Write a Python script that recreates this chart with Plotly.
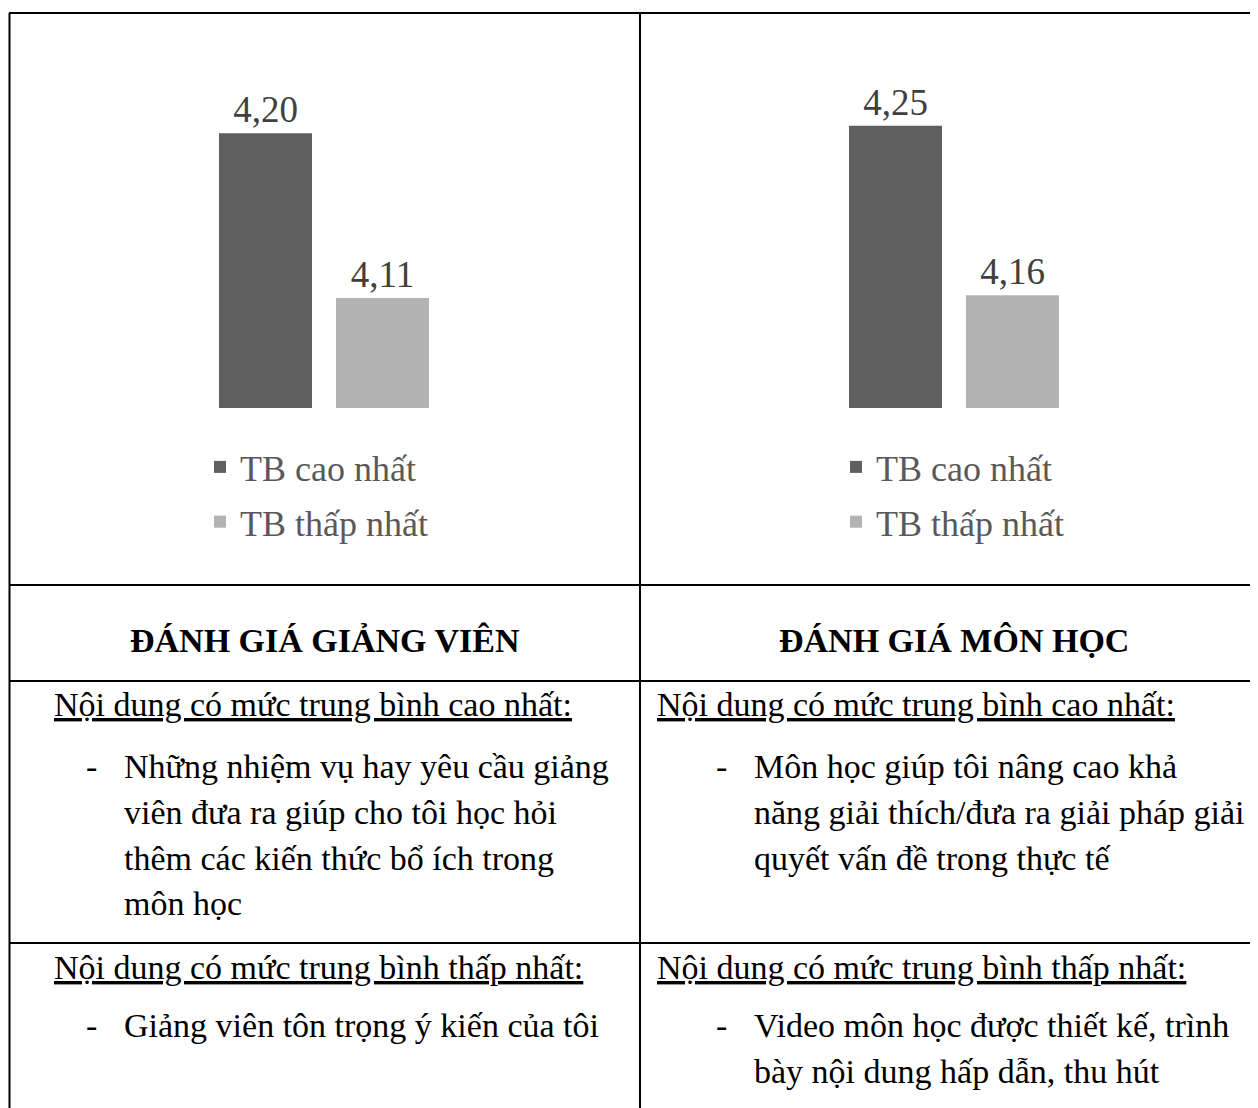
import plotly.graph_objects as go

# Kich thuoc trang
W, H = 1258, 1108
LE = 8  # le mac dinh cua trang html

# Du lieu
nhom = ['ĐÁNH GIÁ GIẢNG VIÊN', 'ĐÁNH GIÁ MÔN HỌC']
ten_chuoi = ['TB cao nhất', 'TB thấp nhất']
tb_cao = [4.20, 4.25]
tb_thap = [4.11, 4.16]
mau = ['#5f5f5f', '#b3b3b3']

tieu_de_cao = 'Nội dung có mức trung bình cao nhất:'
tieu_de_thap = 'Nội dung có mức trung bình thấp nhất:'
gv_cao = ['Những nhiệm vụ hay yêu cầu giảng', 'viên đưa ra giúp cho tôi học hỏi',
          'thêm các kiến thức bổ ích trong', 'môn học']
gv_thap = ['Giảng viên tôn trọng ý kiến của tôi']
mh_cao = ['Môn học giúp tôi nâng cao khả', 'năng giải thích/đưa ra giải pháp giải',
          'quyết vấn đề trong thực tế']
mh_thap = ['Video môn học được thiết kế, trình', 'bày nội dung hấp dẫn, thu hút']

FONT = 'Liberation Serif, Times New Roman, serif'


# Doi toa do pixel cua trang sang toa do paper
def fx(px):
    return (px - LE) / W


def fy(py):
    return 1 - (py - LE) / H


fig = go.Figure()

# Hai bieu do cot
for i in range(2):
    xa = 'x' if i == 0 else 'x2'
    ya = 'y' if i == 0 else 'y2'
    lg = 'legend' if i == 0 else 'legend2'
    for j, vals in enumerate([tb_cao, tb_thap]):
        fig.add_trace(go.Bar(
            x=[nhom[i]], y=[vals[i]], name=ten_chuoi[j],
            marker=dict(color=mau[j], line=dict(width=0)),
            xaxis=xa, yaxis=ya, legend=lg, legendgroup=f'{i}-{j}',
            texttemplate='%{y:.2f}', textposition='outside',
            textfont=dict(family=FONT, size=37, color='#404040'),
            constraintext='none', cliponaxis=False,
        ))

# Duong ke bang
duong = []
ke = dict(color='black', width=2)
duong.append(dict(type='line', xref='paper', yref='paper', x0=fx(9), x1=1, y0=fy(13), y1=fy(13), line=ke))
duong.append(dict(type='line', xref='paper', yref='paper', x0=fx(9.5), x1=fx(9.5), y0=fy(13), y1=0, line=ke))
duong.append(dict(type='line', xref='paper', yref='paper', x0=fx(640), x1=fx(640), y0=fy(13), y1=0, line=ke))
for yy in [585, 681, 943]:
    duong.append(dict(type='line', xref='paper', yref='paper', x0=fx(9), x1=1, y0=fy(yy), y1=fy(yy), line=ke))

# Chu trong bang
chu = []


def them(text, x, y, size=34, anchor='left', bold=False):
    chu.append(dict(
        text=f'<b>{text}</b>' if bold else text,
        xref='paper', yref='paper', x=fx(x), y=fy(y),
        xanchor=anchor, yanchor='middle', showarrow=False,
        font=dict(family=FONT, size=size, color='black'),
    ))


them(nhom[0], 324.5, 640, size=34, anchor='center', bold=True)
them(nhom[1], 954, 640, size=34, anchor='center', bold=True)

cot = [(52, 84, 122, gv_cao, gv_thap), (655, 714, 752, mh_cao, mh_thap)]
for x_td, x_gach, x_nd, cao, thap in cot:
    them(f'<u>{tieu_de_cao}</u>', x_td, 705)
    them('-', x_gach, 766)
    for k, dong in enumerate(cao):
        them(dong, x_nd, 766 + 46 * k)
    them(f'<u>{tieu_de_thap}</u>', x_td, 967)
    them('-', x_gach, 1025)
    for k, dong in enumerate(thap):
        them(dong, x_nd, 1025 + 46 * k)

chu_legend = dict(family=FONT, size=36, color='#595959')

fig.update_layout(
    width=W, height=H,
    margin=dict(l=0, r=0, t=0, b=0),
    paper_bgcolor='white', plot_bgcolor='white',
    separators=',.',
    barmode='group', bargap=0.415, bargroupgap=0.205,
    xaxis=dict(domain=[fx(124), fx(524)], anchor='y', visible=False),
    yaxis=dict(domain=[fy(408), fy(60)], range=[4.05, 4.24], anchor='x', visible=False),
    xaxis2=dict(domain=[fx(754), fx(1154)], anchor='y2', visible=False),
    yaxis2=dict(domain=[fy(408), fy(60)], range=[4.10, 4.285], anchor='x2', visible=False),
    legend=dict(x=fx(200), y=fy(437), xanchor='left', yanchor='top', font=chu_legend,
                bgcolor='rgba(0,0,0,0)', traceorder='grouped', tracegroupgap=5),
    legend2=dict(x=fx(836), y=fy(437), xanchor='left', yanchor='top', font=chu_legend,
                 bgcolor='rgba(0,0,0,0)', traceorder='grouped', tracegroupgap=5),
    shapes=duong,
    annotations=chu,
    showlegend=True,
)

fig.write_html('out.html', config={'displayModeBar': False})
